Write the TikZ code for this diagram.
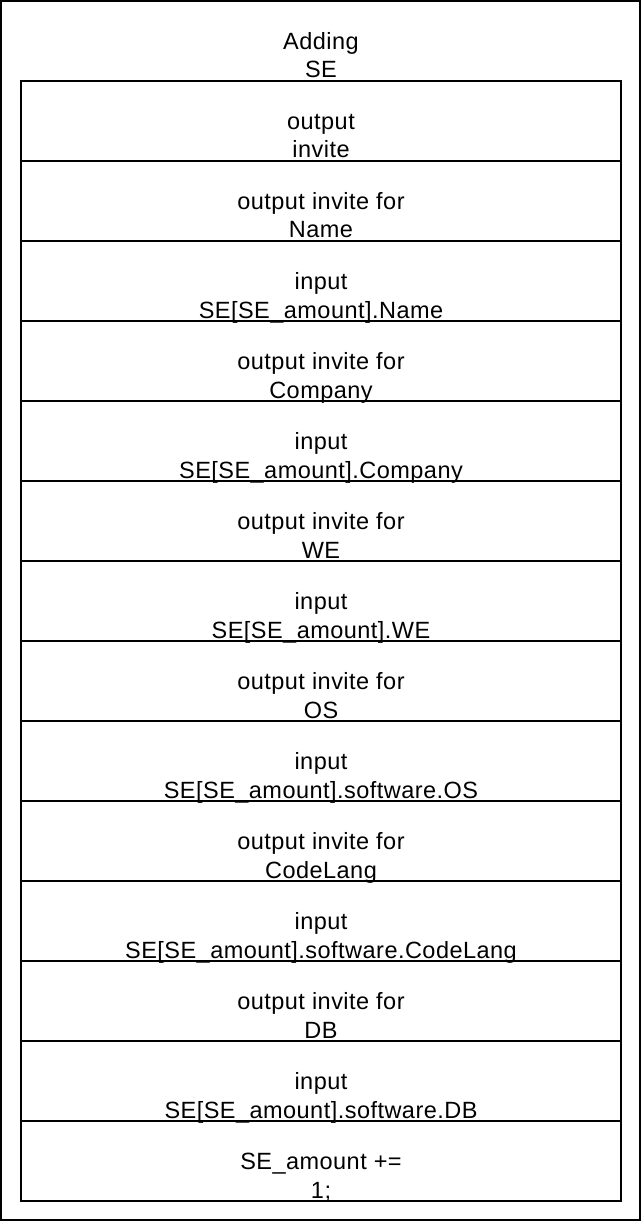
\documentclass[tikz,border=0pt]{standalone}
\usepackage{fontspec}
\setmainfont{Liberation Sans}[LetterSpace=2]
\newcommand{\dstrut}{\rule[-6pt]{0pt}{6pt}}
\tikzset{
  rowbox/.style={draw, line width=2pt, minimum width=600pt, minimum height=80pt, inner sep=0pt, outer sep=0pt},
  txt/.style={align=center, inner sep=0pt, outer sep=0pt, anchor=south, yshift=-3pt,
    font=\fontsize{23.5pt}{28.5pt}\selectfont},
  frame/.style={draw, line width=2pt, minimum width=639pt, minimum height=1219pt, inner sep=0pt, outer sep=0pt}
}
\begin{document}
\begin{tikzpicture}[x=1pt, y=-1pt]
\useasboundingbox (0,0) rectangle (642,1222);
\node[frame] (outer) at (320.5,610.5) {};
\coordinate (ttl) at (321,81);
\node[txt] (title) at (ttl) {Adding\\SE\dstrut};
% text nodes (drawn first so row lines lie on top)
\foreach \i/\t in {
  1/{output\\invite},
  2/{output invite for\\Name},
  3/{input\\SE[SE\_amount].Name},
  4/{output invite for\\Company},
  5/{input\\SE[SE\_amount].Company},
  6/{output invite for\\WE},
  7/{input\\SE[SE\_amount].WE},
  8/{output invite for\\OS},
  9/{input\\SE[SE\_amount].software.OS},
  10/{output invite for\\CodeLang},
  11/{input\\SE[SE\_amount].software.CodeLang},
  12/{output invite for\\DB},
  13/{input\\SE[SE\_amount].software.DB},
  14/{SE\_amount +=\\1;}}{
  \coordinate (b\i) at (321,{81+80*\i});
  \node[txt] (t\i) at (b\i) {\t\dstrut};
}
\foreach \i in {1,...,14}{
  \node[rowbox] (r\i) at (321,{41+80*\i}) {};
}
\end{tikzpicture}
\end{document}
